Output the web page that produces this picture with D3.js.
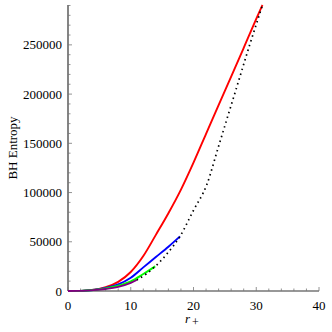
<!DOCTYPE html>
<html>
<head>
<meta charset="utf-8">
<title>BH Entropy</title>
<script src="https://cdn.jsdelivr.net/npm/d3@7"></script>
<style>
  body { margin: 0; background: #fff; }
  text { font-family: "Liberation Serif", "Times New Roman", serif; }
</style>
</head>
<body>
<div id="chart"></div>
<script>
// data: horizon radius r+ and entropy
const redR   = [0, 2, 4, 6, 8, 10, 12, 14, 16, 18, 20, 22, 24, 26, 28, 30, 31];
const redS   = [0, 150, 1100, 3800, 9300, 19300, 35500, 57000, 79000, 103000, 130400, 159700, 188900, 217700, 246900, 276300, 290500];
const blueR  = [0, 2, 4, 6, 8, 10, 12, 14, 16, 17.85];
const blueS  = [0, 150, 1050, 3000, 6700, 13500, 24000, 34500, 45000, 55500];
const greenR = [0, 2, 4, 6, 8, 10, 12, 13.9];
const greenS = [0, 150, 1000, 2600, 5300, 9700, 17200, 25000];
const purpR  = [0, 2, 4, 6, 8, 10, 10.95];
const purpS  = [0, 150, 900, 2100, 4200, 8200, 11200];
// dotted line through the end points
const dotR   = [10.95, 12.5, 13.9, 16, 17.85, 20, 22.1, 24, 26.5, 29, 31];
const dotS   = [11200, 17500, 25000, 39500, 55500, 82000, 107700, 147100, 199000, 250900, 290500];

const xTicks = [0, 10, 20, 30, 40];
const yTicks = [0, 50000, 100000, 150000, 200000, 250000];

const width = 332, height = 332;
const svg = d3.select("#chart").append("svg")
    .attr("width", width)
    .attr("height", height);

const x = d3.scaleLinear().domain([0, 40]).range([68, 319]);
const y = d3.scaleLinear().domain([0, 290500]).range([291, 5]);

const zip = (rs, ss) => rs.map((r, i) => [r, ss[i]]);
const line = d3.line()
    .x(d => x(d[0]))
    .y(d => y(d[1]))
    .curve(d3.curveMonotoneX);

// axes
const axisColor = "#333";
svg.append("line")
    .attr("x1", x(0)).attr("x2", x(0))
    .attr("y1", y(0)).attr("y2", y.range()[1])
    .attr("stroke", axisColor).attr("stroke-width", 1.2);
svg.append("line")
    .attr("x1", x(0)).attr("x2", x(40))
    .attr("y1", y(0)).attr("y2", y(0))
    .attr("stroke", axisColor).attr("stroke-width", 1.2);

// minor + major ticks (pointing inward)
const yMinor = d3.range(0, 290001, 10000);
svg.selectAll(".ytick")
    .data(yMinor)
    .enter().append("line")
    .attr("x1", x(0))
    .attr("x2", d => x(0) + (d % 50000 === 0 ? 4 : 2.5))
    .attr("y1", d => y(d)).attr("y2", d => y(d))
    .attr("stroke", "#777").attr("stroke-width", 0.8);

const xMinor = d3.range(0, 40.01, 2);
svg.selectAll(".xtick")
    .data(xMinor)
    .enter().append("line")
    .attr("x1", d => x(d)).attr("x2", d => x(d))
    .attr("y1", y(0))
    .attr("y2", d => y(0) - (d % 10 === 0 ? 4 : 2.5))
    .attr("stroke", "#777").attr("stroke-width", 0.8);

svg.selectAll(".ylabel")
    .data(yTicks)
    .enter().append("text")
    .attr("x", x(0) - 6)
    .attr("y", d => y(d) + 4.5)
    .attr("text-anchor", "end")
    .attr("font-size", 13)
    .attr("fill", "#000")
    .text(d => d);

svg.selectAll(".xlabel")
    .data(xTicks)
    .enter().append("text")
    .attr("x", d => x(d))
    .attr("y", 310)
    .attr("text-anchor", "middle")
    .attr("font-size", 13)
    .attr("fill", "#000")
    .text(d => d);

// axis titles
const xt = svg.append("text")
    .attr("x", 185)
    .attr("y", 323)
    .attr("font-size", 13)
    .attr("fill", "#000");
xt.append("tspan").attr("font-style", "italic").text("r");
xt.append("tspan").attr("dx", 2).attr("dy", 3).attr("font-size", 12).text("+");

svg.append("text")
    .attr("transform", "translate(17,148) rotate(-90)")
    .attr("text-anchor", "middle")
    .attr("font-size", 13)
    .attr("fill", "#000")
    .text("BH Entropy");

// curves
const series = [
    { r: redR, s: redS, color: "#ff0000" },
    { r: blueR, s: blueS, color: "#0000ff" },
    { r: greenR, s: greenS, color: "#00ff00" },
    { r: purpR, s: purpS, color: "#800080" }
];
svg.selectAll(".curve")
    .data(series)
    .enter().append("path")
    .attr("class", "curve")
    .attr("d", d => line(zip(d.r, d.s)))
    .attr("fill", "none")
    .attr("stroke", d => d.color)
    .attr("stroke-width", 1.9);

svg.append("path")
    .attr("d", line(zip(dotR, dotS)))
    .attr("fill", "none")
    .attr("stroke", "#000")
    .attr("stroke-width", 1.7)
    .attr("stroke-dasharray", "1.5,3.5");
</script>
</body>
</html>
